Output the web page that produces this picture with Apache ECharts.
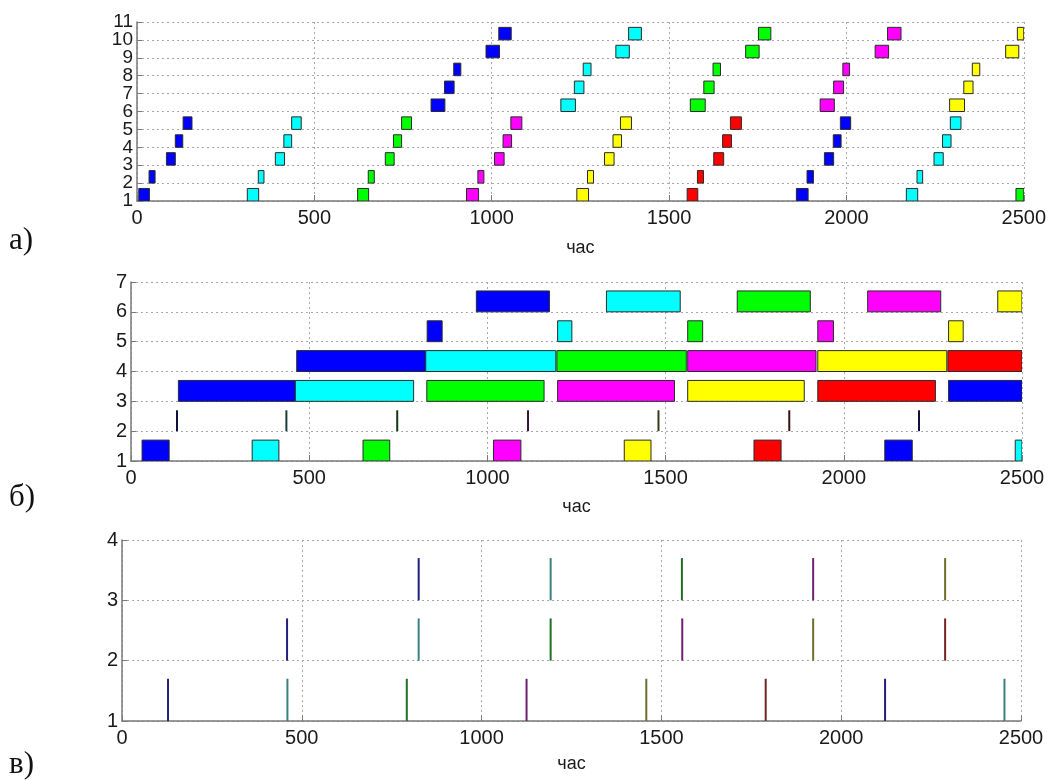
<!DOCTYPE html>
<html>
<head>
<meta charset="utf-8">
<script src="https://cdn.jsdelivr.net/npm/echarts@6/dist/echarts.min.js"></script>
<style>
html,body{margin:0;padding:0;background:#fff;}
#chart{width:1049px;height:780px;}
</style>
</head>
<body>
<div id="chart"></div>
<script>
// ---- data ----
const xTicks = [0, 500, 1000, 1500, 2000, 2500];
const yTicksA = ['1', '2', '3', '4', '5', '6', '7', '8', '9', '10', '11'];
const colorNames = ['blue', 'cyan', 'green', 'magenta', 'yellow', 'red'];
const fillColors = ['#0000ff', '#00ffff', '#00ff00', '#ff00ff', '#ffff00', '#ff0000'];
const darkColors = ['#20207a', '#3c8080', '#207020', '#702070', '#6e6e2c', '#702424'];
const markColors = ['#101040', '#1c3c3c', '#103810', '#381038', '#38381a', '#381212'];

// panel а: [start, end, row, colour]
const tasksA_blue = [[5,35,1,0],[34,51,2,0],[83,108,3,0],[108,129,4,0],[130,155,5,0],
  [829,868,6,0],[867,894,7,0],[893,913,8,0],[984,1022,9,0],[1020,1055,10,0],
  [1859,1892,1,0],[1889,1907,2,0],[1938,1964,3,0],[1963,1985,4,0],[1983,2012,5,0]];
const tasksA_cyan = [[311,343,1,1],[342,358,2,1],[390,416,3,1],[414,436,4,1],[436,463,5,1],
  [1195,1236,6,1],[1233,1260,7,1],[1258,1280,8,1],[1350,1388,9,1],[1386,1422,10,1],
  [2169,2201,1,1],[2199,2215,2,1],[2247,2273,3,1],[2271,2295,4,1],[2293,2323,5,1]];
const tasksA_green = [[622,653,1,2],[652,669,2,2],[700,725,3,2],[723,746,4,2],[746,774,5,2],
  [1560,1602,6,2],[1598,1627,7,2],[1624,1645,8,2],[1716,1754,9,2],[1752,1787,10,2],
  [2478,2510,1,2]];
const tasksA_magenta = [[929,963,1,3],[961,978,2,3],[1008,1035,3,3],[1032,1056,4,3],[1054,1085,5,3],
  [1926,1966,6,3],[1964,1992,7,3],[1990,2009,8,3],[2081,2119,9,3],[2116,2154,10,3]];
const tasksA_yellow = [[1240,1273,1,4],[1270,1287,2,4],[1318,1345,3,4],[1342,1366,4,4],[1363,1394,5,4],
  [2291,2333,6,4],[2331,2357,7,4],[2355,2376,8,4],[2449,2486,9,4],[2482,2520,10,4]];
const tasksA_red = [[1551,1581,1,5],[1580,1597,2,5],[1626,1654,3,5],[1651,1676,4,5],[1673,1704,5,5]];

// panel б
const tasksB_row1 = [[31,107,1,0],[340,415,1,1],[651,726,1,2],[1017,1094,1,3],[1384,1459,1,4],[1748,1824,1,5],[2115,2192,1,0],[2481,2560,1,1]];
const marksB_row2 = [[129,2,0],[436,2,1],[747,2,2],[1114,2,3],[1480,2,4],[1847,2,5],[2211,2,0]];
const tasksB_row3 = [[133,461,3,0],[461,793,3,1],[830,1159,3,2],[1197,1525,3,3],[1562,1889,3,4],[1927,2257,3,5],[2294,2620,3,0]];
const tasksB_row4 = [[465,826,4,0],[827,1192,4,1],[1195,1558,4,2],[1562,1922,4,3],[1927,2289,4,4],[2292,2650,4,5]];
const tasksB_row5 = [[831,873,5,0],[1197,1237,5,1],[1562,1604,5,2],[1927,1971,5,3],[2294,2335,5,4]];
const tasksB_row6 = [[969,1174,6,0],[1334,1541,6,1],[1701,1906,6,2],[2067,2272,6,3],[2432,2640,6,4]];

// panel в: [time, row, colour]
const eventsC_row1 = [[128,1,0],[460,1,1],[792,1,2],[1125,1,3],[1458,1,4],[1790,1,5],[2122,1,0],[2454,1,1]];
const eventsC_row2 = [[459,2,0],[825,2,1],[1192,2,2],[1558,2,3],[1922,2,4],[2289,2,5]];
const eventsC_row3 = [[825,3,0],[1192,3,1],[1557,3,2],[1922,3,3],[2289,3,4]];

const barHeight = 0.7;

// ---- rendering ----
function clipBox(params){
  return {x: params.coordSys.x, y: params.coordSys.y, width: params.coordSys.width, height: params.coordSys.height};
}
function renderRect(params, api){
  const s = api.value(0), e = api.value(1), r = api.value(2), c = api.value(3);
  const p0 = api.coord([s, r + barHeight]);
  const p1 = api.coord([e, r]);
  const shape = echarts.graphic.clipRectByRect(
    {x: p0[0], y: p0[1], width: p1[0] - p0[0], height: p1[1] - p0[1]}, clipBox(params));
  return shape && {type: 'rect', shape: shape, style: {fill: fillColors[c], stroke: '#2a2a2a', lineWidth: 1}};
}
function makeLineRenderer(palette, width){
  return function(params, api){
    const t = api.value(0), r = api.value(1), c = api.value(2);
    const p0 = api.coord([t, r]);
    const p1 = api.coord([t, r + barHeight]);
    return {type: 'line', shape: {x1: p0[0], y1: p0[1], x2: p1[0], y2: p1[1]},
      style: {stroke: palette[c], lineWidth: width}};
  };
}

const gridDefs = [
  {left: 137, right: 22, top: 22, height: 179},
  {left: 131, right: 27, top: 282, height: 179},
  {left: 122, right: 28, top: 540, height: 181}
];
const yMax = [11, 7, 4];
const nameGaps = [38, 37, 34];

const axisLineStyle = {color: '#7a7a7a', width: 1.5};
const splitStyle = {show: true, lineStyle: {color: '#a8a8a8', type: [2, 3], width: 1}};
const labelFont = 'Liberation Sans, Arial, sans-serif';

const xAxes = gridDefs.map((g, i) => ({
  type: 'value', gridIndex: i, min: xTicks[0], max: xTicks[xTicks.length - 1], interval: 500,
  axisLine: {show: true, lineStyle: axisLineStyle},
  axisTick: {show: true, inside: true, length: 6, lineStyle: {color: '#7a7a7a'}},
  axisLabel: {fontSize: 20, color: '#1a1a1a', fontFamily: labelFont, margin: 7, formatter: v => String(v),
    showMinLabel: true, showMaxLabel: true},
  splitLine: splitStyle,
  name: 'час', nameLocation: 'middle', nameGap: nameGaps[i],
  nameTextStyle: {fontSize: 18, color: '#1a1a1a', fontFamily: labelFont}
}));
const yAxes = gridDefs.map((g, i) => ({
  type: 'value', gridIndex: i, min: 1, max: yMax[i], interval: 1, position: 'left',
  axisLine: {show: true, onZero: false, lineStyle: axisLineStyle},
  axisTick: {show: true, inside: true, length: 5, lineStyle: {color: '#7a7a7a'}},
  axisLabel: {show: i !== 0, fontSize: 20, color: '#1a1a1a', fontFamily: labelFont, margin: 4,
    formatter: v => String(v), showMinLabel: true, showMaxLabel: true},
  splitLine: splitStyle
}));
// dense tick labels of panel а (all 11 shown, like the original)
yAxes.push({
  type: 'category', gridIndex: 0, data: yTicksA, boundaryGap: false, position: 'left',
  axisLine: {show: false}, axisTick: {show: false}, splitLine: {show: false},
  axisLabel: {interval: 0, fontSize: 19, color: '#1a1a1a', fontFamily: labelFont, margin: 4}
});

function rectSeries(data, idx){
  return {type: 'custom', xAxisIndex: idx, yAxisIndex: idx, renderItem: renderRect,
    encode: {x: [0, 1], y: 2}, data: data, silent: true, clip: true};
}
function lineSeries(data, idx, palette, width){
  return {type: 'custom', xAxisIndex: idx, yAxisIndex: idx, renderItem: makeLineRenderer(palette, width),
    encode: {x: 0, y: 1}, data: data, silent: true, clip: true};
}

const series = [
  rectSeries(tasksA_blue, 0), rectSeries(tasksA_cyan, 0), rectSeries(tasksA_green, 0),
  rectSeries(tasksA_magenta, 0), rectSeries(tasksA_yellow, 0), rectSeries(tasksA_red, 0),
  rectSeries(tasksB_row1, 1), lineSeries(marksB_row2, 1, markColors, 2),
  rectSeries(tasksB_row3, 1), rectSeries(tasksB_row4, 1), rectSeries(tasksB_row5, 1), rectSeries(tasksB_row6, 1),
  lineSeries(eventsC_row1, 2, darkColors, 2), lineSeries(eventsC_row2, 2, darkColors, 2), lineSeries(eventsC_row3, 2, darkColors, 2)
];

const panelLabels = [['а)', 243], ['б)', 500], ['в)', 767]];

const chart = echarts.init(document.getElementById('chart'), null, {renderer: 'canvas'});
chart.setOption({
  animation: false,
  backgroundColor: '#ffffff',
  grid: gridDefs,
  xAxis: xAxes,
  yAxis: yAxes,
  series: series,
  graphic: panelLabels.map(p => ({
    type: 'text', left: 9, top: p[1] - 18,
    style: {text: p[0], font: '31px "Liberation Serif", "Times New Roman", serif', fill: '#111'}
  }))
});
</script>
</body>
</html>
